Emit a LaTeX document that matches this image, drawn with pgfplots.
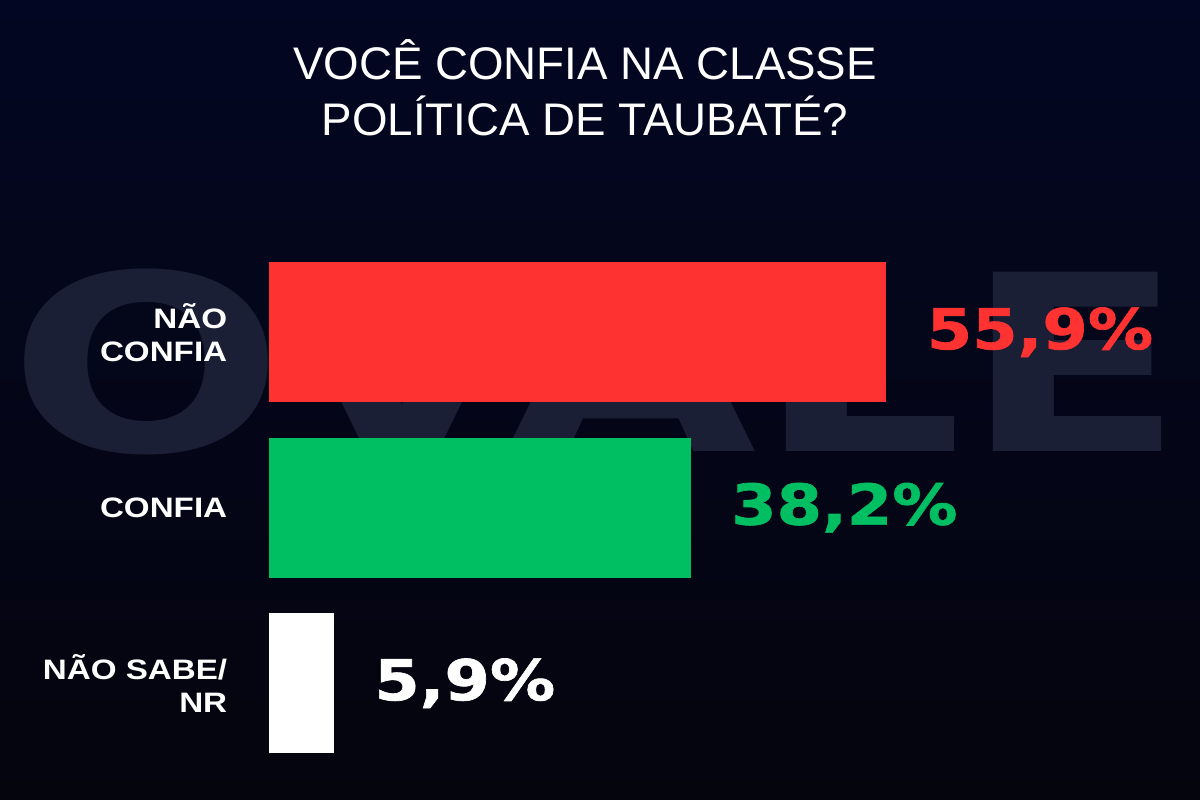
\documentclass[border=0pt]{standalone}
\usepackage{pgfplots}
\pgfplotsset{compat=1.18}
\usepackage{fontspec}
\setmainfont{Liberation Sans}
\newfontfamily\titlefont{Liberation Sans}
\newfontfamily\labfont{Liberation Sans}[FakeStretch=1.18]
\newfontfamily\valfont{DejaVu Sans}[FakeStretch=1.16,FakeBold=1.2]
\newfontfamily\wmfont{DejaVu Sans}[FakeStretch=1.32]
\definecolor{bgtop}{RGB}{3,6,34}
\definecolor{bgbot}{RGB}{5,5,14}
\definecolor{wm}{RGB}{27,31,54}
\definecolor{cred}{RGB}{255,50,50}
\definecolor{cgreen}{RGB}{0,190,98}
\begin{document}
\begin{tikzpicture}
\shade[top color=bgtop, bottom color=bgbot] (0cm,0cm) rectangle (18cm,12cm);
\path[use as bounding box] (0cm,0cm) rectangle (18cm,12cm);
% watermark
\node[anchor=base west, inner sep=0pt, text=wm, font=\wmfont\bfseries\fontsize{105}{110}\selectfont] at (0.12cm,5.22cm) {OVALE};
% title
\node[align=center, text=white, font=\titlefont\fontsize{19.5}{24}\selectfont] at (8.775cm,10.68cm) {VOCÊ CONFIA NA CLASSE\\POLÍTICA DE TAUBATÉ?};
\begin{axis}[
  at={(4.03cm,0.435cm)}, anchor=south west,
  width=9.945cm, height=7.8975cm, scale only axis,
  xbar, bar width=0.8, bar shift=0pt,
  y dir=reverse,
  xmin=0, xmax=60, ymin=-0.5, ymax=2.5,
  axis line style={draw=none}, tick style={draw=none},
  axis lines=left,
  xtick=\empty,
  ytick={0,1,2},
  yticklabels={{NÃO\\CONFIA},{CONFIA},{NÃO SABE/\\NR}},
  yticklabel style={align=right, text=white, inner sep=0pt, xshift=-0.54cm,
    font=\labfont\bfseries\fontsize{12}{14}\selectfont},
  nodes near coords style={anchor=west, inner sep=0pt, xshift=0.6cm,
    font=\valfont\bfseries\fontsize{24}{28}\selectfont},
  clip=false,
]
\addplot[fill=cred, draw=none, nodes near coords={55,9\%}, nodes near coords style={text=cred}] coordinates {(55.9,0)};
\addplot[fill=cgreen, draw=none, nodes near coords={38,2\%}, nodes near coords style={text=cgreen}] coordinates {(38.2,1)};
\addplot[fill=white, draw=none, nodes near coords={5,9\%}, nodes near coords style={text=white}] coordinates {(5.9,2)};
\end{axis}
\end{tikzpicture}
\end{document}
